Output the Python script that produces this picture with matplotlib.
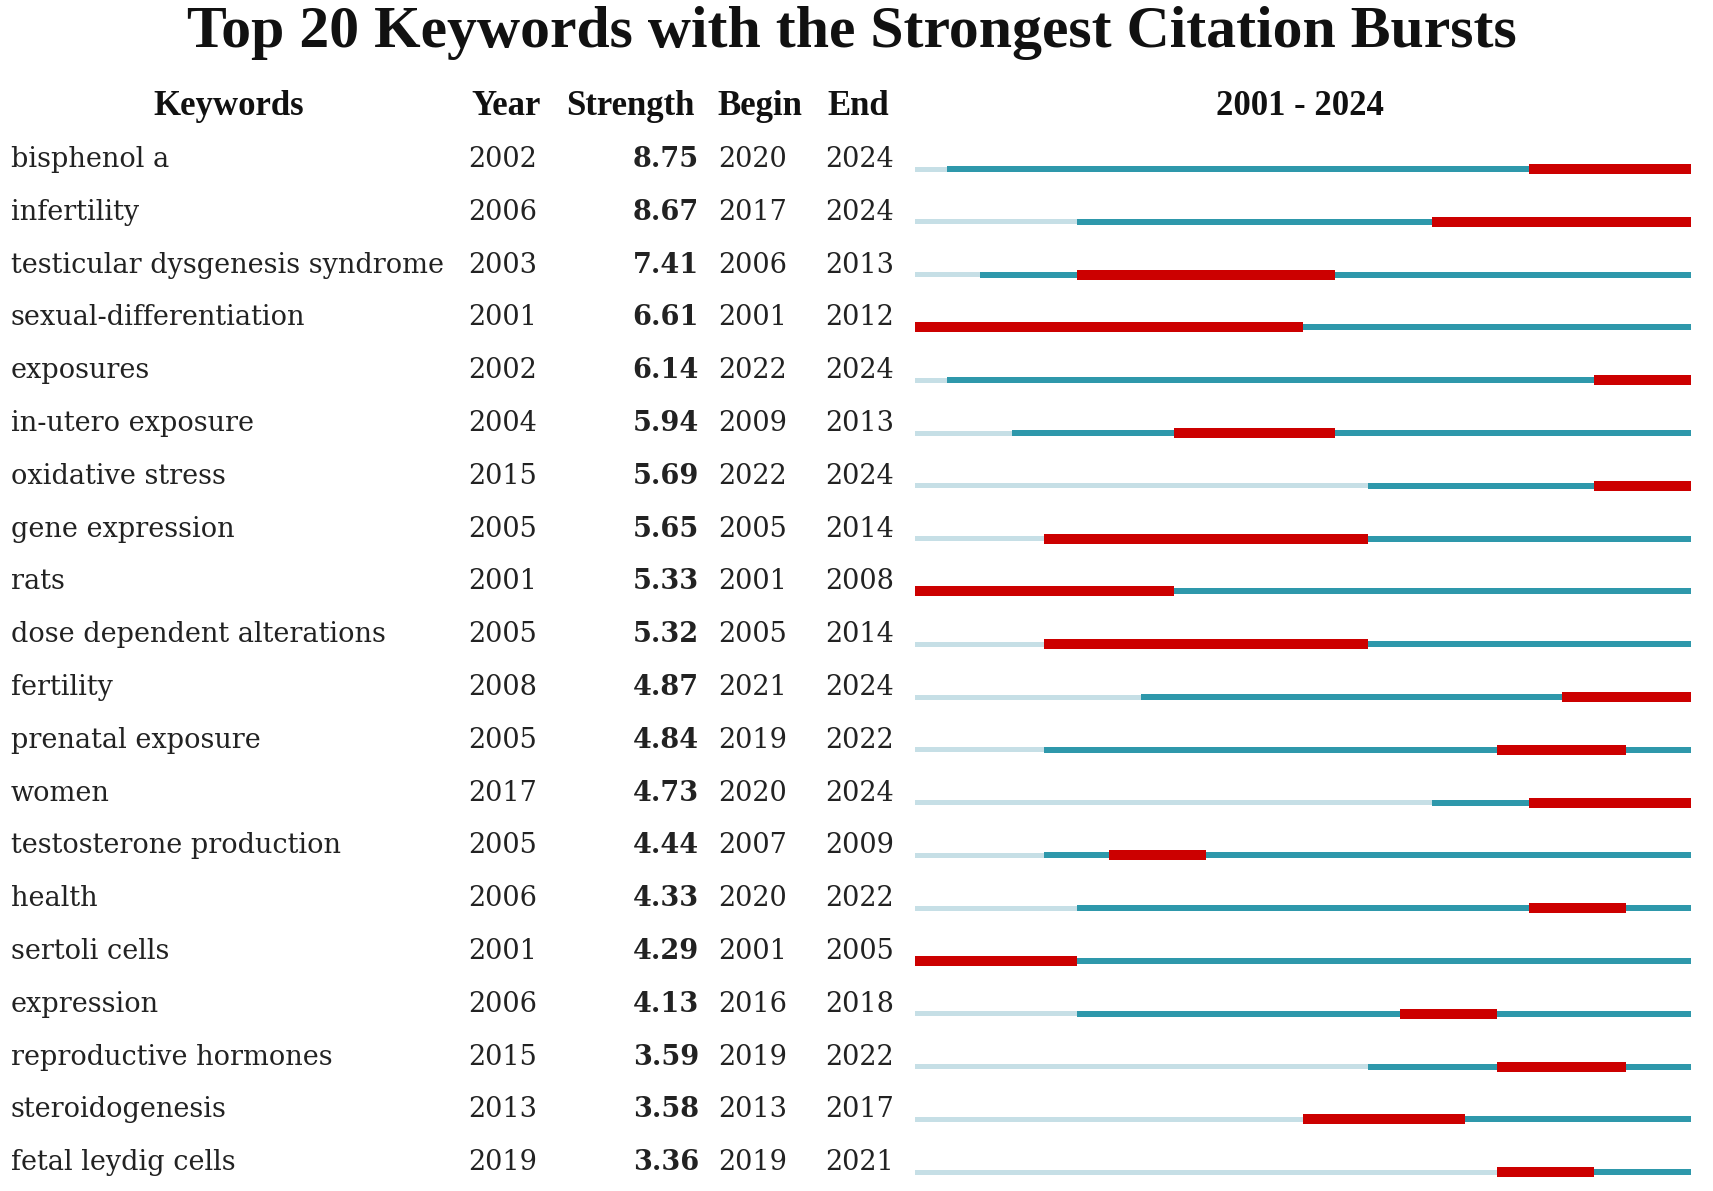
import matplotlib.pyplot as plt

# burst data
keywords = ["bisphenol a", "infertility", "testicular dysgenesis syndrome",
            "sexual-differentiation", "exposures", "in-utero exposure",
            "oxidative stress", "gene expression", "rats",
            "dose dependent alterations", "fertility", "prenatal exposure",
            "women", "testosterone production", "health", "sertoli cells",
            "expression", "reproductive hormones", "steroidogenesis",
            "fetal leydig cells"]
years = [2002, 2006, 2003, 2001, 2002, 2004, 2015, 2005, 2001, 2005,
         2008, 2005, 2017, 2005, 2006, 2001, 2006, 2015, 2013, 2019]
strength = [8.75, 8.67, 7.41, 6.61, 6.14, 5.94, 5.69, 5.65, 5.33, 5.32,
            4.87, 4.84, 4.73, 4.44, 4.33, 4.29, 4.13, 3.59, 3.58, 3.36]
begin = [2020, 2017, 2006, 2001, 2022, 2009, 2022, 2005, 2001, 2005,
         2021, 2019, 2020, 2007, 2020, 2001, 2016, 2019, 2013, 2019]
end = [2024, 2024, 2013, 2012, 2024, 2013, 2024, 2014, 2008, 2014,
       2024, 2022, 2024, 2009, 2022, 2005, 2018, 2022, 2017, 2021]
first_year, last_year = 2001, 2024

W, H = 1713, 1191
fig = plt.figure(figsize=(W / 100, H / 100), dpi=100)

# text axes in pixel units
ax = fig.add_axes([0, 0, 1, 1])
ax.set_xlim(0, W)
ax.set_ylim(H, 0)
ax.axis("off")

# bar axes in year units
x0, x1 = 915, 1691
bx = fig.add_axes([x0 / W, 0, (x1 - x0) / W, 1])
bx.set_xlim(first_year, last_year + 1)
bx.set_ylim(H, 0)
bx.axis("off")

body = dict(family="DejaVu Serif", fontsize=19.5, color="#222222", va="baseline")
head = dict(family="Liberation Serif", fontsize=25, fontweight="bold", color="#111111",
            va="baseline", ha="center")

ax.text(852, 47, "Top 20 Keywords with the Strongest Citation Bursts",
        family="Liberation Serif", fontsize=43, fontweight="bold",
        ha="center", va="baseline", color="#111111")

ax.text(229, 115, "Keywords", **head)
ax.text(506, 115, "Year", **head)
ax.text(630, 115, "Strength", **head)
ax.text(760, 115, "Begin", **head)
ax.text(858, 115, "End", **head)
ax.text(1300, 115, f"{first_year} - {last_year}", **head)

light = "#c6dfe6"
teal = "#2e98ab"
red = "#cc0000"

for i, kw in enumerate(keywords):
    yb = 167 + 52.8 * i
    ax.text(11, yb, kw, ha="left", **body)
    ax.text(468, yb, str(years[i]), ha="left", **body)
    ax.text(699, yb, f"{strength[i]:.2f}", ha="right", fontweight="bold", **body)
    ax.text(718, yb, str(begin[i]), ha="left", **body)
    ax.text(825, yb, str(end[i]), ha="left", **body)

    yc = yb + 2
    # before the keyword appeared
    if years[i] > first_year:
        bx.barh(yc, years[i] - first_year, left=first_year, height=5,
                color=light)
    # keyword present
    bx.barh(yc, last_year + 1 - years[i], left=years[i], height=6,
            color=teal)
    # burst
    bx.barh(yc, end[i] + 1 - begin[i], left=begin[i], height=10,
            color=red)

fig.savefig("out.png", dpi=100, facecolor="white")
